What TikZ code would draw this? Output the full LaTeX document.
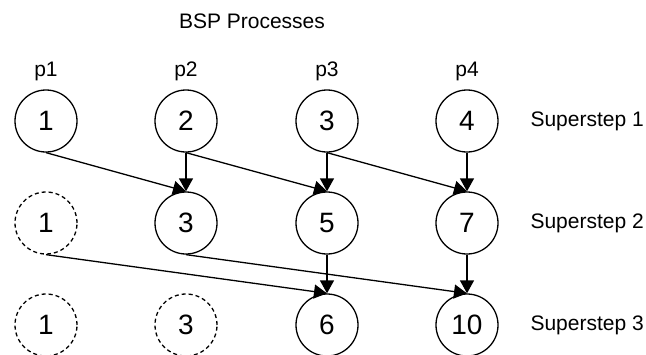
\documentclass[tikz,border=0pt]{standalone}
\usepackage{fontspec}
\setmainfont{Liberation Sans}
\usetikzlibrary{arrows.meta}
\begin{document}
\begin{tikzpicture}[x=1pt,y=1pt,
  proc/.style={circle,draw,line width=1.3pt,minimum size=62pt,inner sep=0pt,font=\fontsize{28}{28}\selectfont},
  ghost/.style={proc,dashed,dash pattern=on 4pt off 3pt},
  lbl/.style={font=\fontsize{21}{22}\selectfont},
  msg/.style={line width=1.3pt,-{Triangle[length=13pt,width=14pt]}}]
\useasboundingbox (0,0) rectangle (646,-354);
\node[lbl] (title) at (252,-21) {BSP Processes};
\node[lbl] (p1) at (46,-71) {p1};
\node[lbl] (p2) at (186,-71) {p2};
\node[lbl] (p3) at (327,-71) {p3};
\node[lbl] (p4) at (467,-71) {p4};
\node[proc] (a1) at (46,-121) {1};
\node[proc] (a2) at (186,-121) {2};
\node[proc] (a3) at (327,-121) {3};
\node[proc] (a4) at (467,-121) {4};
\node[ghost] (b1) at (46,-223) {1};
\node[proc] (b2) at (186,-223) {3};
\node[proc] (b3) at (327,-223) {5};
\node[proc] (b4) at (467,-223) {7};
\node[ghost] (c1) at (46,-325) {1};
\node[ghost] (c2) at (186,-325) {3};
\node[proc] (c3) at (327,-325) {6};
\node[proc] (c4) at (467,-325) {10};
\node[lbl,anchor=west] (s1) at (527,-121) {Superstep 1};
\node[lbl,anchor=west] (s2) at (527,-223) {Superstep 2};
\node[lbl,anchor=west] (s3) at (527,-325) {Superstep 3};
\draw[msg] (a1.south) -- (b2.north);
\draw[msg] (a2.south) -- (b2.north);
\draw[msg] (a2.south) -- (b3.north);
\draw[msg] (a3.south) -- (b3.north);
\draw[msg] (a3.south) -- (b4.north);
\draw[msg] (a4.south) -- (b4.north);
\draw[msg] (b1.south) -- (c3.north);
\draw[msg] (b3.south) -- (c3.north);
\draw[msg] (b2.south) -- (c4.north);
\draw[msg] (b4.south) -- (c4.north);
\end{tikzpicture}
\end{document}
